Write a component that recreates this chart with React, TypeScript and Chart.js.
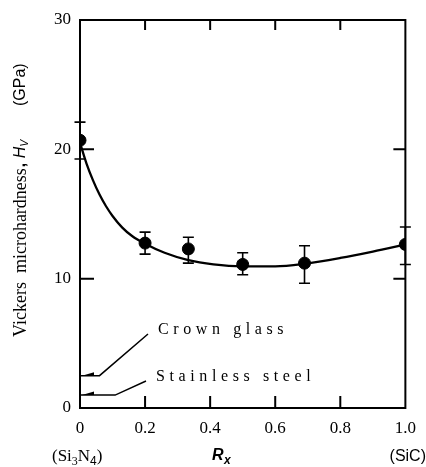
import { useEffect, useRef } from 'react';
import { Chart, registerables } from 'chart.js';
Chart.register(...registerables);

// measured points (Rx, Hv in GPa) with error bar limits
const rx = [0, 0.2, 0.333, 0.5, 0.69, 1.0];
const hv = [20.7, 12.75, 12.3, 11.1, 11.2, 12.65];
const hvHigh = [22.1, 13.6, 13.2, 12.0, 12.55, 14.0];
const hvLow = [19.25, 11.9, 11.2, 10.3, 9.65, 11.1];

// hand-drawn trend curve
const fitRx = [0, 0.02, 0.04, 0.06, 0.08, 0.1, 0.13, 0.16, 0.2, 0.26, 0.33, 0.41, 0.5, 0.6, 0.69, 0.8, 0.9, 1.0];
const fitHv = [20.5, 18.9, 17.6, 16.5, 15.6, 14.85, 13.95, 13.3, 12.7, 12.0, 11.45, 11.1, 10.95, 10.95, 11.15, 11.6, 12.1, 12.65];

// axes
const xTickValues = [0, 0.2, 0.4, 0.6, 0.8, 1.0];
const xTickLabels = ['0', '0.2', '0.4', '0.6', '0.8', '1.0'];
const yTickValues = [0, 10, 20, 30];
const yTickLabels = ['0', '10', '20', '30'];

// reference materials marked on the hardness axis
const refNames = ['Crown glass', 'Stainless steel'];
const refHv = [2.5, 1.0];

// layout (pixels) for annotation leaders/text
const refElbowRx = [0.06, 0.108];
const refTextPos = [
  { x: 158, y: 330 },
  { x: 156, y: 377 },
];

const SERIF = '"Liberation Serif", "DejaVu Serif", serif';
const SANS = '"Liberation Sans", "DejaVu Sans", sans-serif';

const decorPlugin = {
  id: 'decor',
  afterDatasetsDraw(chart: any) {
    const ctx = chart.ctx as CanvasRenderingContext2D;
    const xs = chart.scales.x;
    const ys = chart.scales.y;
    const { left, right, top, bottom } = chart.chartArea;
    ctx.save();
    ctx.strokeStyle = '#000';
    ctx.fillStyle = '#000';

    // error bars
    ctx.lineWidth = 1.6;
    rx.forEach((v, i) => {
      const px = xs.getPixelForValue(v);
      const ph = ys.getPixelForValue(hvHigh[i]);
      const pl = ys.getPixelForValue(hvLow[i]);
      ctx.beginPath();
      ctx.moveTo(px, ph);
      ctx.lineTo(px, pl);
      ctx.moveTo(px - 5.5, ph);
      ctx.lineTo(px + 5.5, ph);
      ctx.moveTo(px - 5.5, pl);
      ctx.lineTo(px + 5.5, pl);
      ctx.stroke();
    });

    // frame
    ctx.lineWidth = 2;
    ctx.strokeRect(left, top, right - left, bottom - top);

    // inward ticks
    ctx.lineWidth = 2;
    ctx.beginPath();
    xTickValues.forEach((v) => {
      if (v <= 0 || v >= 1) return;
      const px = xs.getPixelForValue(v);
      ctx.moveTo(px, bottom);
      ctx.lineTo(px, bottom - 12);
      ctx.moveTo(px, top);
      ctx.lineTo(px, top + 10);
    });
    yTickValues.forEach((v) => {
      if (v <= 0 || v >= 30) return;
      const py = ys.getPixelForValue(v);
      ctx.moveTo(left, py);
      ctx.lineTo(left + 14, py);
      ctx.moveTo(right, py);
      ctx.lineTo(right - 12, py);
    });
    ctx.stroke();

    // reference material leaders
    ctx.lineWidth = 1.5;
    refNames.forEach((name, i) => {
      const py = ys.getPixelForValue(refHv[i]);
      const ex = xs.getPixelForValue(refElbowRx[i]);
      const tp = refTextPos[i];
      ctx.beginPath();
      ctx.moveTo(left + 1, py);
      ctx.lineTo(ex, py);
      ctx.lineTo(tp.x - 10, tp.y + 4);
      ctx.stroke();
      // small arrowhead
      ctx.beginPath();
      ctx.moveTo(left + 2, py);
      ctx.lineTo(left + 14, py - 3.5);
      ctx.lineTo(left + 14, py);
      ctx.closePath();
      ctx.fill();
      ctx.font = `16px ${SERIF}`;
      (ctx as any).letterSpacing = '4.6px';
      ctx.textAlign = 'left';
      ctx.textBaseline = 'middle';
      ctx.fillText(name, tp.x, tp.y);
      (ctx as any).letterSpacing = '0px';
    });

    // y axis title (rotated)
    ctx.save();
    ctx.translate(21, 0);
    ctx.rotate(-Math.PI / 2);
    ctx.textBaseline = 'middle';
    ctx.textAlign = 'left';
    ctx.font = `18px ${SERIF}`;
    const t1 = 'Vickers  microhardness';
    ctx.fillText(t1, -337, 0);
    let pos = -337 + ctx.measureText(t1).width;
    ctx.font = `bold 16px ${SANS}`;
    ctx.fillText(',', pos + 1, 0);
    pos += 10;
    ctx.font = `italic 16px ${SANS}`;
    ctx.fillText('H', pos, 0);
    pos += ctx.measureText('H').width;
    ctx.font = `italic 10px ${SANS}`;
    ctx.fillText('V', pos, 4);
    ctx.font = `16px ${SANS}`;
    ctx.fillText('(GPa)', -106, 0);
    ctx.restore();

    // x axis extra labels
    ctx.textBaseline = 'alphabetic';
    ctx.textAlign = 'left';
    ctx.font = `17px ${SERIF}`;
    let x0 = 52;
    const base = 461;
    ctx.fillText('(Si', x0, base);
    x0 += ctx.measureText('(Si').width;
    ctx.font = `12px ${SERIF}`;
    ctx.fillText('3', x0, base + 4);
    x0 += ctx.measureText('3').width;
    ctx.font = `17px ${SERIF}`;
    ctx.fillText('N', x0, base);
    x0 += ctx.measureText('N').width;
    ctx.font = `12px ${SANS}`;
    ctx.fillText('4', x0, base + 4);
    x0 += ctx.measureText('4').width;
    ctx.font = `17px ${SERIF}`;
    ctx.fillText(')', x0, base);

    ctx.font = `bold italic 16px ${SANS}`;
    ctx.fillText('R', 212, 460);
    ctx.font = `bold italic 12px ${SANS}`;
    ctx.fillText('x', 224, 464);

    ctx.font = `16px ${SANS}`;
    ctx.textAlign = 'right';
    ctx.fillText('(SiC)', 426, 461);

    ctx.restore();
  },
};

export default function App() {
  const ref = useRef<HTMLCanvasElement | null>(null);
  useEffect(() => {
    document.body.style.margin = '0';
    document.body.style.background = '#fff';
    const canvas = ref.current!;
    const chart = new Chart(canvas, {
      type: 'scatter',
      data: {
        datasets: [
          {
            type: 'line',
            data: fitRx.map((x, i) => ({ x, y: fitHv[i] })),
            borderColor: '#000',
            borderWidth: 2.3,
            pointRadius: 0,
            cubicInterpolationMode: 'monotone',
            fill: false,
          } as any,
          {
            data: rx.map((x, i) => ({ x, y: hv[i] })),
            pointRadius: 6,
            backgroundColor: '#000',
            borderColor: '#000',
          },
        ],
      },
      options: {
        animation: false,
        responsive: false,
        devicePixelRatio: 1,
        layout: { padding: { top: 20, right: 20, left: 0, bottom: 0 } },
        plugins: { legend: { display: false }, tooltip: { enabled: false } },
        scales: {
          x: {
            type: 'linear',
            min: 0,
            max: 1,
            afterFit: (s: any) => { s.height = 59; },
            afterBuildTicks: (s: any) => { s.ticks = xTickValues.map((v) => ({ value: v })); },
            grid: { display: false, drawTicks: false },
            border: { display: false },
            ticks: {
              padding: 10,
              color: '#000',
              maxRotation: 0,
              font: { family: SERIF, size: 17 },
              callback: (_v: any, i: number) => xTickLabels[i],
            },
          },
          y: {
            min: 0,
            max: 30,
            afterFit: (s: any) => { s.width = 80; },
            afterBuildTicks: (s: any) => { s.ticks = yTickValues.map((v) => ({ value: v })); },
            grid: { display: false, drawTicks: false },
            border: { display: false },
            ticks: {
              padding: 9,
              color: '#000',
              font: { family: SERIF, size: 17 },
              callback: (_v: any, i: number) => yTickLabels[i],
            },
          },
        },
      },
      plugins: [decorPlugin],
    });
    return () => chart.destroy();
  }, []);
  return <canvas ref={ref} width={426} height={467} style={{ display: 'block' }} />;
}
